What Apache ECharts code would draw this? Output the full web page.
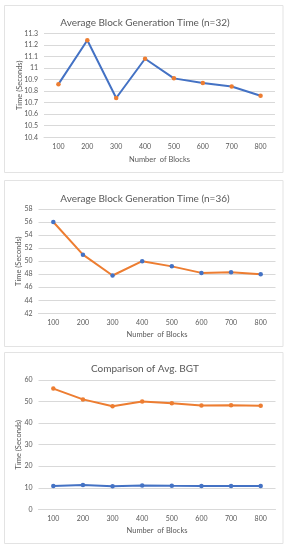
<!DOCTYPE html>
<html><head><meta charset="utf-8">
<script src="https://cdn.jsdelivr.net/npm/echarts@6/dist/echarts.min.js"></script>
<style>html,body{margin:0;padding:0;background:#fff}#c{width:290px;height:550px}</style>
</head><body><div id="c"></div>
<script>
const categories = ['100','200','300','400','500','600','700','800'];
const bgt32 = [10.86, 11.24, 10.74, 11.08, 10.91, 10.87, 10.84, 10.76];
const bgt36 = [56, 51, 47.8, 50, 49.2, 48.2, 48.3, 48.0];
const titles = ['Average Block Generation Time (n=32)', 'Average Block Generation Time (n=36)', 'Comparison of Avg. BGT'];
const xName = 'Number  of Blocks';
const yName = 'Time (Seconds)';

const BLUE = '#4472C4', ORANGE = '#ED7D31';
const FONT = 'Lato';
const grids = [
  {left: 44, width: 231, top: 33.3, height: 104},
  {left: 38.5, width: 237, top: 209, height: 104.3},
  {left: 38.5, width: 237, top: 380, height: 129.3}
];
const yRanges = [[10.4, 11.3, 0.1], [42, 58, 2], [0, 60, 10]];
const titleTops = [13, 189, 359];
const yGaps = [20, 15.5, 15.5];
const xGaps = [18, 17, 17];

const chart = echarts.init(document.getElementById('c'), null, {renderer: 'canvas'});
const option = {
  backgroundColor: '#fff',
  animation: false,
  graphic: [
    {type: 'rect', shape: {x: 4.5, y: 5.5, width: 278.5, height: 167}, style: {fill: 'none', stroke: '#e3e3e3', lineWidth: 1}},
    {type: 'rect', shape: {x: 4.5, y: 180.5, width: 278.5, height: 166}, style: {fill: 'none', stroke: '#e3e3e3', lineWidth: 1}},
    {type: 'rect', shape: {x: 4.5, y: 352.5, width: 278.5, height: 191}, style: {fill: 'none', stroke: '#e3e3e3', lineWidth: 1}}
  ],
  title: titles.map((t, i) => ({
    text: t, left: 'center', top: titleTops[i],
    textStyle: {fontFamily: FONT, fontSize: 10, fontWeight: 'normal', color: '#595959'}
  })),
  grid: grids,
  xAxis: grids.map((g, i) => ({
    type: 'category', gridIndex: i, data: categories, boundaryGap: true,
    name: xName, nameLocation: 'middle', nameGap: xGaps[i], nameMoveOverlap: false,
    nameTextStyle: {fontFamily: FONT, fontSize: 7.5, color: '#595959'},
    axisLine: {show: true, lineStyle: {color: '#d9d9d9'}},
    axisTick: {show: false},
    axisLabel: {fontFamily: FONT, fontSize: 7, color: '#595959', margin: 5.5}
  })),
  yAxis: grids.map((g, i) => ({
    type: 'value', gridIndex: i, min: yRanges[i][0], max: yRanges[i][1], interval: yRanges[i][2],
    name: yName, nameLocation: 'middle', nameGap: yGaps[i], nameMoveOverlap: false,
    nameTextStyle: {fontFamily: FONT, fontSize: 7.5, color: '#595959'},
    axisLine: {show: false}, axisTick: {show: false},
    axisLabel: {fontFamily: FONT, fontSize: 7, color: '#595959', margin: 6},
    splitLine: {show: true, lineStyle: {color: '#d9d9d9', width: 1}}
  })),
  series: [
    {type: 'line', xAxisIndex: 0, yAxisIndex: 0, data: bgt32, symbol: 'circle', symbolSize: 4.5,
     lineStyle: {color: BLUE, width: 2}, itemStyle: {color: ORANGE}},
    {type: 'line', xAxisIndex: 1, yAxisIndex: 1, data: bgt36, symbol: 'circle', symbolSize: 4.5,
     lineStyle: {color: ORANGE, width: 2}, itemStyle: {color: BLUE}},
    {type: 'line', xAxisIndex: 2, yAxisIndex: 2, data: bgt36, symbol: 'circle', symbolSize: 4.5,
     lineStyle: {color: ORANGE, width: 2}, itemStyle: {color: ORANGE}},
    {type: 'line', xAxisIndex: 2, yAxisIndex: 2, data: bgt32, symbol: 'circle', symbolSize: 4.5,
     lineStyle: {color: BLUE, width: 2}, itemStyle: {color: BLUE}}
  ]
};
chart.setOption(option);
</script></body></html>
